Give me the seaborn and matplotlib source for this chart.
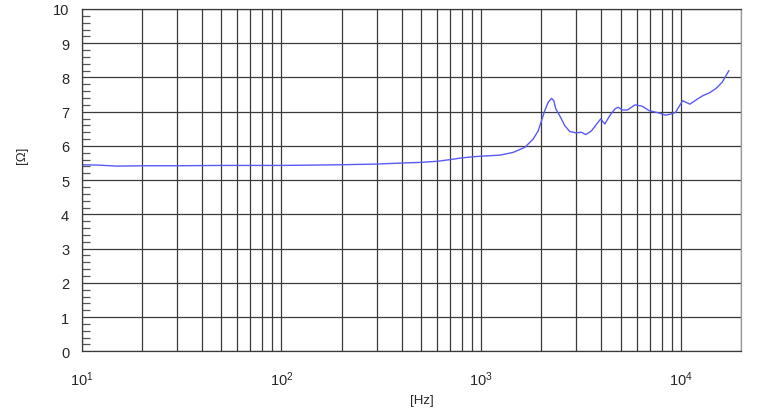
import numpy as np
import pandas as pd
import matplotlib
matplotlib.use("Agg")
import matplotlib.pyplot as plt
import seaborn as sns
from matplotlib.ticker import LogLocator, MultipleLocator, NullFormatter

freq_hz = [10, 12, 15, 20, 30, 50, 100, 200, 300, 400, 500, 600, 700, 800, 900,
           1000, 1240, 1445, 1656, 1821, 1930, 2006, 2082, 2164, 2250, 2311, 2365,
           2476, 2624, 2780, 3000, 3178, 3340, 3566, 3850, 3970, 4160, 4400, 4670,
           4850, 5100, 5400, 5900, 6400, 6940, 7800, 8340, 8900, 9400, 10200,
           11100, 12100, 12900, 13900, 15000, 16100, 17400]
impedance_ohm = [5.45, 5.44, 5.41, 5.42, 5.42, 5.43, 5.43, 5.45, 5.47, 5.50, 5.52,
                 5.55, 5.60, 5.65, 5.68, 5.70, 5.73, 5.81, 5.96, 6.20, 6.44, 6.74,
                 7.03, 7.27, 7.39, 7.32, 7.08, 6.88, 6.59, 6.42, 6.38, 6.40, 6.33,
                 6.44, 6.69, 6.79, 6.64, 6.88, 7.08, 7.13, 7.05, 7.05, 7.20, 7.16,
                 7.03, 6.96, 6.90, 6.93, 6.98, 7.32, 7.22, 7.37, 7.47, 7.55, 7.68,
                 7.86, 8.20]

df = pd.DataFrame({"Hz": freq_hz, "Ohm": impedance_ohm})

sns.set_theme(style="white")
plt.rcParams["font.family"] = ["Liberation Sans", "DejaVu Sans"]
plt.rcParams["mathtext.default"] = "regular"

fig = plt.figure(figsize=(7.65, 4.10), dpi=100)
ax = fig.add_axes([81.7 / 765, 1 - 352.3 / 410, (741 - 81.7) / 765, (352.3 - 10) / 410])

sns.lineplot(data=df, x="Hz", y="Ohm", ax=ax, color="#5a5af5", linewidth=1.0)

ax.set_xscale("log")
ax.set_xlim(10, 20000)
ax.set_ylim(0, 10)

ax.xaxis.set_major_locator(LogLocator(base=10, numticks=10))
ax.xaxis.set_minor_locator(LogLocator(base=10, subs=np.arange(2, 10), numticks=20))
ax.xaxis.set_minor_formatter(NullFormatter())
ax.yaxis.set_major_locator(MultipleLocator(1))
ax.yaxis.set_minor_locator(MultipleLocator(0.2))

ax.grid(which="major", axis="both", color="#3a3a3a", linewidth=0.9)
ax.grid(which="minor", axis="x", color="#3a3a3a", linewidth=0.9)

ax.tick_params(axis="x", which="major", direction="out", length=11, width=0.9,
               color="#3a3a3a", labelsize=10.5, pad=2)
ax.tick_params(axis="x", which="minor", length=0)
ax.tick_params(axis="y", which="major", direction="out", length=5, width=0.9,
               color="#3a3a3a", labelsize=10.5, pad=4)
ax.tick_params(axis="y", which="minor", direction="in", length=6, width=0.9,
               color="#555555", left=True)

for s in ax.spines.values():
    s.set_color("#3a3a3a")
    s.set_linewidth(0.9)
ax.spines["right"].set_color("#999999")

ax.set_xlabel("[Hz]", fontsize=9.5)
ax.set_ylabel("[Ω]", fontsize=9.5)
ax.xaxis.set_label_coords((422 - 81.7) / (741 - 81.7), -(395 - 352.3) / (352.3 - 10))
ax.yaxis.set_label_coords(-(81.7 - 28) / (741 - 81.7), (352.3 - 155) / (352.3 - 10))

fig.savefig("out.png", dpi=100, facecolor="white")
